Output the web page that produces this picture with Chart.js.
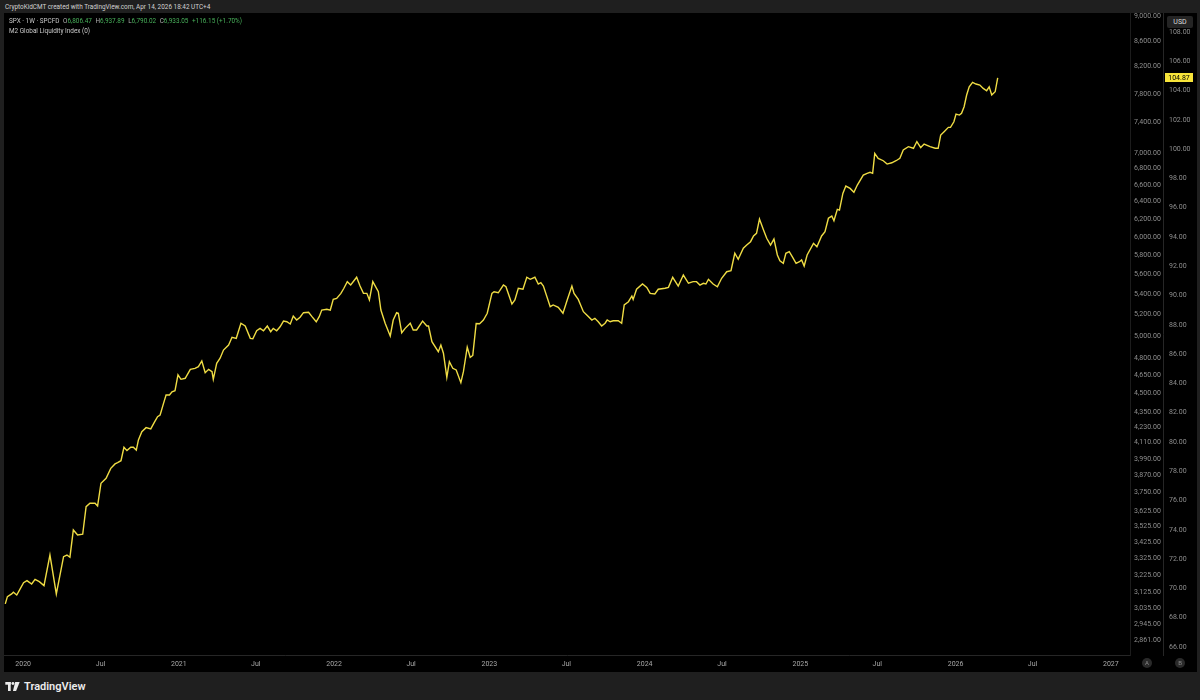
<!DOCTYPE html>
<html>
<head>
<meta charset="utf-8">
<script src="https://cdn.jsdelivr.net/npm/chart.js@4.4.1/dist/chart.umd.min.js"></script>
<style>
html,body{margin:0;padding:0;background:#1f1f1f;width:1200px;height:700px;overflow:hidden;font-family:Roboto,"Noto Sans",sans-serif;}
#hdr{position:absolute;left:5px;top:2px;font-size:6.4px;line-height:10px;color:#d2d2d2;white-space:nowrap;}
#panel{position:absolute;left:4px;top:13px;width:1193px;height:659px;background:#000;}
#panel canvas{position:absolute;left:0;top:0;}
#legend{position:absolute;left:5px;top:3px;font-size:6.4px;line-height:10px;color:#c8c8c8;white-space:nowrap;z-index:2;}
#legend .g{color:#48b05a;}
#legend .k{color:#b0b0b0;margin-left:2px;}
#usd{position:absolute;left:1167px;top:16px;width:26px;height:12px;background:#242424;border-radius:2px;color:#dcdcdc;font-size:7px;line-height:12px;text-align:center;z-index:3;}
.btn{position:absolute;top:658px;width:10px;height:10px;border-radius:50%;background:#2a2a2a;color:#8a8a8a;font-size:6px;line-height:10px;text-align:center;z-index:3;}
#footer{position:absolute;left:5px;top:678px;height:16px;display:flex;align-items:center;color:#ececec;font-size:11px;font-weight:600;}
#footer svg{margin-right:4px;}
</style>
</head>
<body>
<div id="hdr">CryptoKidCMT created with TradingView.com, Apr 14, 2026 18:42 UTC+4</div>
<div id="panel">
  <canvas id="c" width="1193" height="659"></canvas>
  <div id="legend">
    <div>SPX · 1W · SPCFD <span class="k">O</span><span class="g">6,806.47</span> <span class="k">H</span><span class="g">6,937.89</span> <span class="k">L</span><span class="g">6,790.02</span> <span class="k">C</span><span class="g">6,933.05</span> <span class="g" style="margin-left:2px">+116.15 (+1.70%)</span></div>
    <div>M2 Global Liquidity Index (0)</div>
  </div>
</div>
<div id="usd">USD</div>
<div class="btn" style="left:1142px">A</div>
<div class="btn" style="left:1175px">B</div>
<div id="footer">
  <svg width="15" height="9" viewBox="0 0 16 10"><rect x="0" y="0" width="6" height="3" fill="#ececec"/><rect x="3" y="0" width="3" height="10" fill="#ececec"/><circle cx="8.5" cy="1.6" r="1.6" fill="#ececec"/><polygon points="11,0 16,0 12,10 8.5,10" fill="#ececec"/></svg>
  <span>TradingView</span>
</div>
<script>
// ---- data ----
const DATES = [
"2019-11-20","2019-11-25","2019-12-05","2019-12-09","2019-12-17","2019-12-25","2020-01-02","2020-01-10","2020-01-21","2020-01-29",
"2020-02-08","2020-02-19","2020-03-04","2020-03-19","2020-04-05","2020-04-13","2020-04-20","2020-04-28","2020-05-08","2020-05-20",
"2020-05-28","2020-06-06","2020-06-18","2020-06-24","2020-07-02","2020-07-14","2020-07-25","2020-08-04","2020-08-10","2020-08-18",
"2020-08-25","2020-09-01","2020-09-10","2020-09-16","2020-09-23","2020-09-28","2020-10-06","2020-10-16","2020-10-27","2020-11-04",
"2020-11-12","2020-11-18","2020-11-26","2020-12-02","2020-12-10","2020-12-16","2020-12-23","2020-12-30","2021-01-06","2021-01-16",
"2021-01-28","2021-02-08","2021-02-16","2021-02-24","2021-03-04","2021-03-12","2021-03-20","2021-03-23","2021-03-31","2021-04-08",
"2021-04-16","2021-04-28","2021-05-06","2021-05-16","2021-05-27","2021-06-06","2021-06-18","2021-06-24","2021-07-03","2021-07-11",
"2021-07-19","2021-07-28","2021-08-05","2021-08-11","2021-08-19","2021-08-27","2021-09-04","2021-09-12","2021-09-20","2021-09-27",
"2021-10-05","2021-10-13","2021-10-21","2021-11-02","2021-11-10","2021-11-20","2021-11-27","2021-12-03","2021-12-15","2021-12-23",
"2021-12-30","2022-01-07","2022-01-17","2022-01-24","2022-02-01","2022-02-09","2022-02-23","2022-03-03","2022-03-11","2022-03-19",
"2022-03-25","2022-04-02","2022-04-15","2022-04-21","2022-05-01","2022-05-13","2022-05-20","2022-05-28","2022-06-01","2022-06-09",
"2022-06-17","2022-06-29","2022-07-06","2022-07-14","2022-07-28","2022-08-07","2022-08-11","2022-08-19","2022-09-03","2022-09-09",
"2022-09-15","2022-09-23","2022-09-29","2022-10-07","2022-10-15","2022-10-26","2022-11-01","2022-11-10","2022-11-17","2022-11-23",
"2022-12-01","2022-12-09","2022-12-18","2022-12-27","2023-01-07","2023-01-12","2023-01-22","2023-02-03","2023-02-09","2023-02-23",
"2023-03-02","2023-03-10","2023-03-21","2023-03-30","2023-04-07","2023-04-18","2023-04-26","2023-05-02","2023-05-08","2023-05-24",
"2023-05-31","2023-06-12","2023-06-23","2023-07-03","2023-07-14","2023-07-19","2023-07-29","2023-08-10","2023-08-18","2023-08-30",
"2023-09-06","2023-09-14","2023-09-22","2023-09-30","2023-10-05","2023-10-12","2023-10-19","2023-10-31","2023-11-08","2023-11-14",
"2023-11-24","2023-12-02","2023-12-05","2023-12-13","2023-12-27","2024-01-06","2024-01-14","2024-01-25","2024-02-02","2024-02-18",
"2024-02-26","2024-03-07","2024-03-20","2024-04-01","2024-04-13","2024-04-24","2024-05-02","2024-05-10","2024-05-18","2024-05-24",
"2024-05-30","2024-06-10","2024-06-20","2024-06-30","2024-07-12","2024-07-22","2024-07-31","2024-08-08","2024-08-20","2024-08-28",
"2024-09-06","2024-09-13","2024-09-20","2024-09-27","2024-10-06","2024-10-14","2024-10-23","2024-10-31","2024-11-08","2024-11-14",
"2024-11-22","2024-11-28","2024-12-06","2024-12-14","2024-12-22","2024-12-30","2025-01-04","2025-01-10","2025-01-17","2025-02-01",
"2025-02-09","2025-02-20","2025-02-28","2025-03-08","2025-03-16","2025-03-21","2025-03-29","2025-04-03","2025-04-11","2025-04-18",
"2025-04-28","2025-05-07","2025-05-15","2025-05-29","2025-06-07","2025-06-14","2025-06-20","2025-06-25","2025-07-03","2025-07-15",
"2025-07-24","2025-08-04","2025-08-14","2025-08-23","2025-08-31","2025-09-12","2025-09-24","2025-10-02","2025-10-11","2025-10-19",
"2025-11-02","2025-11-14","2025-11-21","2025-11-27","2025-12-05","2025-12-15","2025-12-20","2025-12-28","2026-01-02","2026-01-10",
"2026-01-15","2026-01-21","2026-01-27","2026-02-02","2026-02-10","2026-02-18","2026-02-27","2026-03-07","2026-03-15","2026-03-21",
"2026-03-27","2026-04-04","2026-04-10"
];
const M2_INDEX = [
68.94,69.44,69.62,69.74,69.55,69.96,70.39,70.53,70.30,70.62,
70.46,70.19,72.28,69.62,72.17,72.28,72.13,73.99,73.65,73.70,
75.58,75.81,75.81,75.63,77.18,77.52,78.20,78.50,78.59,78.72,
79.64,79.41,79.64,79.64,79.45,80.14,80.70,80.98,80.89,81.32,
81.73,81.84,82.64,83.21,83.21,83.43,83.50,84.58,84.28,84.35,
84.96,85.03,85.14,85.53,84.73,84.96,84.80,84.28,85.37,85.72,
86.28,86.62,87.15,87.08,88.11,87.92,87.08,87.05,87.60,87.76,
87.60,87.92,87.53,87.76,87.60,87.87,88.26,88.21,88.06,88.60,
88.33,88.52,88.83,88.86,88.56,88.21,88.56,89.01,89.06,89.01,
89.74,89.81,90.15,90.50,90.95,90.72,91.25,90.65,90.15,90.15,
89.70,90.95,90.26,89.01,88.11,87.24,88.33,88.83,88.79,87.46,
87.76,88.11,87.65,87.65,88.26,87.92,87.92,86.85,86.17,86.62,
86.06,84.42,85.48,85.03,84.92,84.05,84.80,86.47,85.78,85.91,
88.09,88.08,88.33,88.79,90.15,90.26,90.19,90.72,90.60,89.42,
89.70,90.50,90.43,91.25,91.11,91.25,90.79,90.88,90.65,89.24,
89.36,89.20,88.79,89.70,90.65,90.15,89.74,88.90,88.67,88.33,
88.45,88.21,87.92,88.11,88.33,88.21,88.28,88.28,88.11,89.36,
89.58,89.97,89.74,90.43,90.79,90.56,90.15,90.11,90.43,90.50,
90.56,91.25,90.65,91.40,90.84,90.95,90.95,90.72,90.84,90.79,
91.11,90.79,90.60,91.18,91.63,91.70,92.89,92.48,93.23,93.45,
93.68,94.07,94.25,95.23,94.52,93.91,93.45,93.86,92.77,92.38,
92.20,92.89,93.00,92.61,92.20,92.31,92.43,92.02,92.77,93.57,
93.34,94.07,94.36,95.28,95.43,95.11,95.89,95.84,96.98,97.48,
97.32,97.05,97.55,98.23,98.35,98.42,98.35,99.71,99.37,99.21,
98.98,99.07,99.21,99.37,99.94,100.17,100.06,100.52,100.11,100.35,
100.17,100.06,100.06,100.96,101.19,101.49,101.49,101.87,102.40,102.33,
102.45,102.90,103.70,104.26,104.56,104.45,104.38,104.15,103.99,104.26,
103.70,103.92,104.87
];
const X_TICK_DATES = ["2020-01-01","2020-07-01","2021-01-01","2021-07-01","2022-01-01","2022-07-01","2023-01-01","2023-07-01","2024-01-01","2024-07-01","2025-01-01","2025-07-01","2026-01-01","2026-07-01","2027-01-01"];
const X_TICK_LABELS = ["2020","Jul","2021","Jul","2022","Jul","2023","Jul","2024","Jul","2025","Jul","2026","Jul","2027"];
const VIEW_START = "2019-11-17";
const VIEW_END = "2027-02-15";
const SPX_TICKS = [9000,8600,8200,7800,7400,7000,6800,6600,6400,6200,6000,5800,5600,5400,5200,5000,4800,4650,4500,4350,4230,4110,3990,3870,3750,3625,3525,3425,3325,3225,3125,3035,2945,2861];
const SPX_RANGE = [2783, 9050];
const M2_TICKS = [66,68,70,72,74,76,78,80,82,84,86,88,90,92,94,96,98,100,102,104,106,108];
const M2_RANGE = [65.45, 109.30];

// ---- chart ----
const AXIS_COLOR = '#8e8e8e';
const FONT = {family: 'Roboto, "Noto Sans", sans-serif', size: 7};

function noPad(s) {
  s.paddingTop = 0; s.paddingBottom = 0; s.paddingLeft = 0; s.paddingRight = 0;
}

const lastLabel = {
  id: 'lastLabel',
  afterDraw(chart) {
    const s = chart.scales.yB;
    const d = chart.data.datasets[0].data;
    const v = d[d.length - 1].y;
    const y = s.getPixelForValue(v);
    const ctx = chart.ctx;
    ctx.save();
    ctx.fillStyle = '#f7e43a';
    const w = s.width - 6;
    ctx.fillRect(s.left + 2, Math.round(y - 4.5), w, 9);
    ctx.fillStyle = '#000';
    ctx.font = '7px Roboto, sans-serif';
    ctx.textAlign = 'center';
    ctx.textBaseline = 'middle';
    ctx.fillText(v.toFixed(2), s.left + 2 + w / 2, y + 0.5);
    ctx.restore();
  }
};

new Chart(document.getElementById('c'), {
  type: 'line',
  data: {
    datasets: [{
      label: 'M2 Global Liquidity Index',
      data: DATES.map((d, i) => ({x: Date.parse(d), y: M2_INDEX[i]})),
      xAxisID: 'x',
      yAxisID: 'yB',
      borderColor: '#efdc44',
      borderWidth: 1.4,
      pointRadius: 0,
      tension: 0,
      fill: false
    }]
  },
  options: {
    responsive: false,
    animation: false,
    devicePixelRatio: 1,
    layout: {padding: 0},
    plugins: {legend: {display: false}, tooltip: {enabled: false}},
    scales: {
      x: {
        type: 'linear',
        position: 'bottom',
        min: Date.parse(VIEW_START),
        max: Date.parse(VIEW_END),
        grid: {display: false, drawTicks: false},
        border: {display: true, color: '#262626'},
        afterBuildTicks: s => { s.ticks = X_TICK_DATES.map(d => ({value: Date.parse(d)})); },
        afterFit: s => { s.height = 17; noPad(s); },
        ticks: {
          autoSkip: false, maxRotation: 0, padding: 5,
          color: '#a8a8a8', font: FONT,
          callback: (v, i) => X_TICK_LABELS[i]
        }
      },
      yA: {
        type: 'logarithmic',
        position: 'right',
        weight: 0,
        min: SPX_RANGE[0],
        max: SPX_RANGE[1],
        grid: {display: false, drawTicks: false},
        border: {display: true, color: '#1c1c1c'},
        afterBuildTicks: s => { s.ticks = SPX_TICKS.map(v => ({value: v})); },
        afterFit: s => { s.width = 33; noPad(s); },
        ticks: {
          autoSkip: false, padding: 4, color: AXIS_COLOR, font: FONT,
          callback: v => Number(v).toLocaleString('en-US', {minimumFractionDigits: 2, maximumFractionDigits: 2})
        }
      },
      yB: {
        type: 'linear',
        position: 'right',
        weight: 1,
        min: M2_RANGE[0],
        max: M2_RANGE[1],
        grid: {display: false, drawTicks: false},
        border: {display: true, color: '#262626'},
        afterBuildTicks: s => { s.ticks = M2_TICKS.map(v => ({value: v})); },
        afterFit: s => { s.width = 34; noPad(s); },
        ticks: {
          autoSkip: false, padding: 6, color: AXIS_COLOR, font: FONT,
          callback: v => Number(v).toFixed(2)
        }
      }
    }
  },
  plugins: [lastLabel]
});
</script>
</body>
</html>
